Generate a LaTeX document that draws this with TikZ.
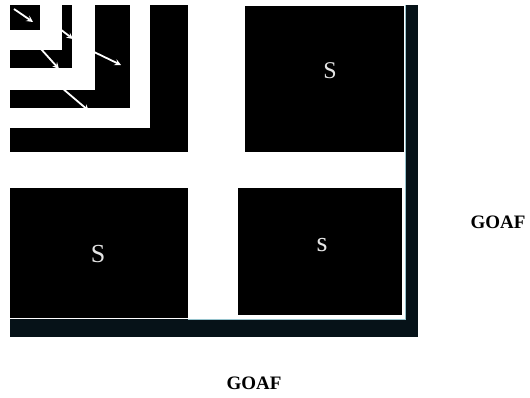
\documentclass[tikz,border=0pt]{standalone}
\usepackage{fontspec}
\setmainfont{Liberation Serif}
\definecolor{barcol}{RGB}{6,18,24}
\definecolor{edgecol}{RGB}{150,195,205}
\tikzset{
  pillarlabel/.style={text=gray!20, inner sep=0pt, font=\fontsize{24}{24}\selectfont},
  goaflabel/.style={inner sep=0pt, font=\fontsize{19}{19}\selectfont\bfseries},
  flow/.style={white, line width=1.8pt, ->, >=stealth}
}
\begin{document}
\begin{tikzpicture}[x=1pt, y=-1pt]
    \useasboundingbox (0,0) rectangle (530,398);

    % fill in nested bands of the corner panel
    \foreach \x/\y/\c in {188/152/black, 150/128/white, 130/108/black,
                          95/90/white, 72/68/black, 62/50/white, 40/30/black} {
        \fill[\c] (10,5) rectangle (\x,\y);
    }

    % draw flow arrows
    \draw[flow] (14,9) -- (33,22);
    \draw[flow] (60,29) -- (73,39);
    \draw[flow] (41,49) -- (59,69);
    \draw[flow] (92,51) -- (121,65);
    \draw[flow] (62,88) -- (89,111);

    % fill in pillars
    \fill[black] (245,6) rectangle (404,152);
    \fill[black] (10,188) rectangle (188,318);
    \fill[black] (238,188) rectangle (402,315);

    % draw goaf edges
    \fill[barcol] (405,5) rectangle (418,337);
    \fill[barcol] (10,319) rectangle (418,337);
    \draw[edgecol, line width=0.5pt] (405,5) -- (405,319) -- (188,319);

    % draw labels
    \node[pillarlabel] (pillarA) at (330,71) {S};
    \node[pillarlabel, font=\fontsize{26}{26}\selectfont] (pillarB) at (98,254) {S};
    \node[pillarlabel, font=\fontsize{28}{28}\selectfont] (pillarC) at (322,245) {s};
    \node[goaflabel] (goafR) at (498,222) {GOAF};
    \node[goaflabel] (goafB) at (254,383) {GOAF};
\end{tikzpicture}
\end{document}
